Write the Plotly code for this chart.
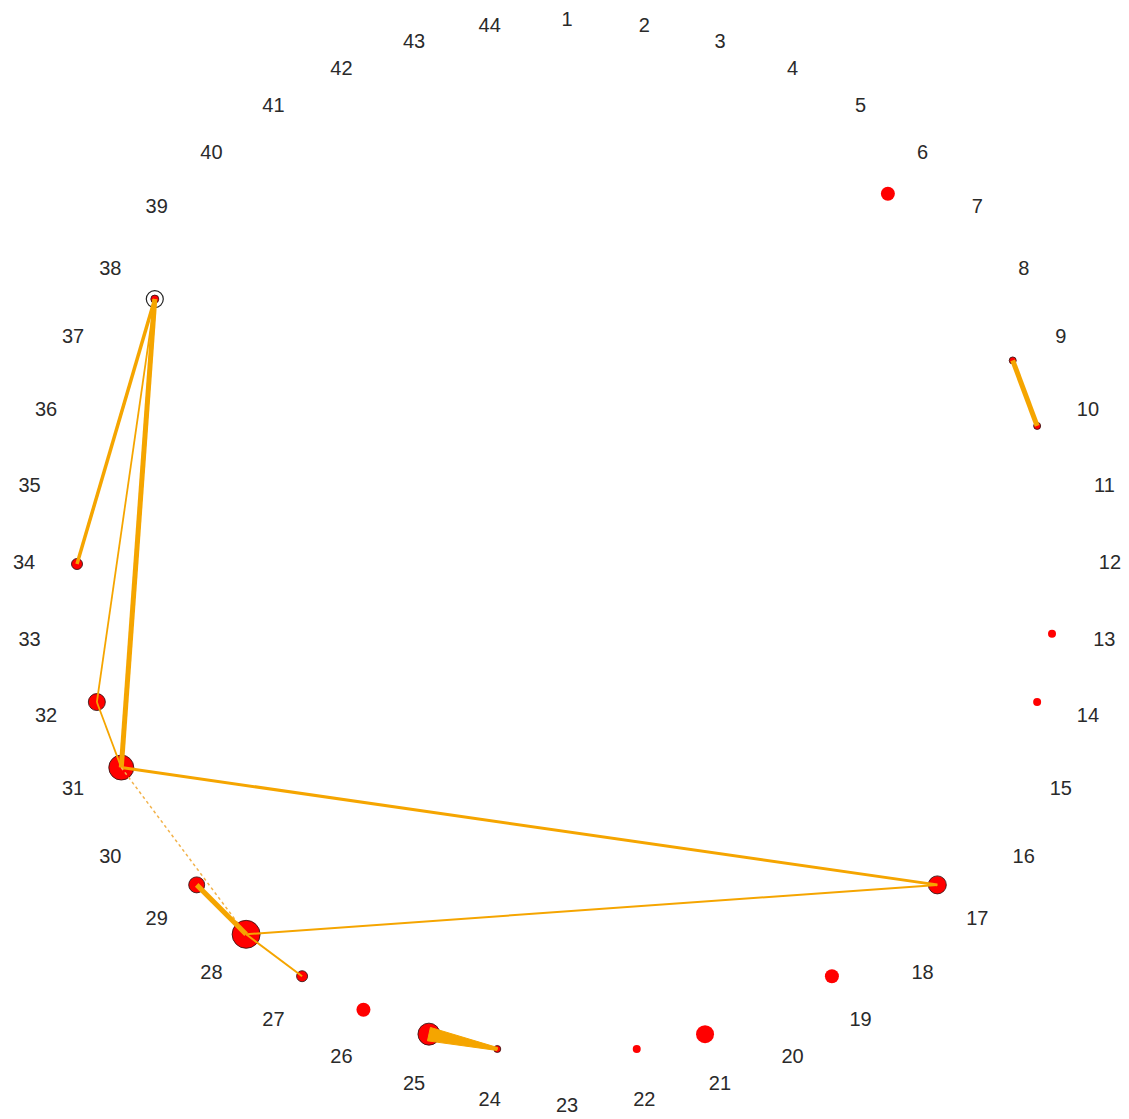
import numpy as np
import plotly.graph_objects as go

# circular layout: 44 vertices, vertex 1 at the top, numbered clockwise
n_nodes = 44
node_ids = list(range(1, n_nodes + 1))

# vertices that are drawn, with their marker diameter (px)
drawn_nodes = [6, 9, 10, 13, 14, 17, 19, 21, 22, 24, 25, 26, 27, 28, 29, 31, 32, 34, 38]
node_sizes = [14, 7, 7, 8, 8, 18, 14, 18, 8, 7, 22, 14, 11, 28, 16, 25, 17, 11, 8]
# vertices that take part in at least one tie get a dark outline
outlined = [9, 10, 17, 24, 25, 27, 28, 29, 31, 32, 34, 38]

# ties: source, target, line width, dashed
edge_from = [9, 38, 38, 38, 32, 31, 31, 28, 29, 28]
edge_to = [10, 34, 32, 31, 31, 17, 28, 17, 28, 27]
edge_width = [5, 3.5, 1.8, 5, 1.8, 3, 1.5, 2, 5, 2]
edge_dotted = [False, False, False, False, False, False, True, False, False, False]

# tapered tie (wide at source, narrow at target)
taper_from, taper_to = 25, 24
taper_w0, taper_w1 = 0.014, 0.003

R_NODE = 1.0
R_LABEL = 1.108


def angle(i):
    return np.pi / 2 - (i - 1) * 2 * np.pi / n_nodes


def pos(i, r=R_NODE):
    a = angle(i)
    return r * np.cos(a), r * np.sin(a)


fig = go.Figure()

# vertices (drawn underneath the ties)
px = [pos(i)[0] for i in drawn_nodes]
py = [pos(i)[1] for i in drawn_nodes]
line_cols = ["rgba(50,20,20,0.85)" if i in outlined else "rgba(0,0,0,0)" for i in drawn_nodes]
fig.add_trace(go.Scatter(
    x=px, y=py, mode="markers",
    marker=dict(size=node_sizes, color="#FF0000", opacity=1,
                line=dict(color=line_cols, width=1)),
    hoverinfo="skip", showlegend=False))

# outer ring around vertex 38
rx, ry = pos(38)
fig.add_trace(go.Scatter(
    x=[rx], y=[ry], mode="markers",
    marker=dict(size=17, color="rgba(0,0,0,0)", opacity=1,
                line=dict(color="#222", width=1.2)),
    hoverinfo="skip", showlegend=False))

edge_color = "#F5A500"
for s, t, w, d in zip(edge_from, edge_to, edge_width, edge_dotted):
    x0, y0 = pos(s)
    x1, y1 = pos(t)
    fig.add_trace(go.Scatter(
        x=[x0, x1], y=[y0, y1], mode="lines",
        line=dict(color="#F2B24A" if d else edge_color, width=w,
                  dash="dot" if d else "solid"),
        hoverinfo="skip", showlegend=False))

# tapered tie as a filled polygon built from the two vertex positions
x0, y0 = pos(taper_from)
x1, y1 = pos(taper_to)
dx, dy = x1 - x0, y1 - y0
L = np.hypot(dx, dy)
nx, ny = -dy / L, dx / L
fig.add_trace(go.Scatter(
    x=[x0 + nx * taper_w0, x1 + nx * taper_w1, x1 - nx * taper_w1, x0 - nx * taper_w0, x0 + nx * taper_w0],
    y=[y0 + ny * taper_w0, y1 + ny * taper_w1, y1 - ny * taper_w1, y0 - ny * taper_w0, y0 + ny * taper_w0],
    mode="lines", fill="toself", fillcolor=edge_color,
    line=dict(color=edge_color, width=1), hoverinfo="skip", showlegend=False))

# vertex labels
lx = [pos(i, R_LABEL)[0] for i in node_ids]
ly = [pos(i, R_LABEL)[1] for i in node_ids]
fig.add_trace(go.Scatter(
    x=lx, y=ly, mode="text", text=[str(i) for i in node_ids],
    textposition="middle center",
    textfont=dict(family="Liberation Sans, Arial, sans-serif", size=20, color="#2a2a2a"),
    hoverinfo="skip", showlegend=False))

W, H = 1129, 1119
cx, cy, scale = 567, 564, 490
fig.update_layout(
    width=W, height=H,
    margin=dict(l=0, r=0, t=0, b=0),
    paper_bgcolor="white", plot_bgcolor="white",
    xaxis=dict(range=[-cx / scale, (W - cx) / scale], visible=False, fixedrange=True),
    yaxis=dict(range=[-(H - cy) / scale, cy / scale], visible=False, fixedrange=True),
)

fig.write_html("out.html")
